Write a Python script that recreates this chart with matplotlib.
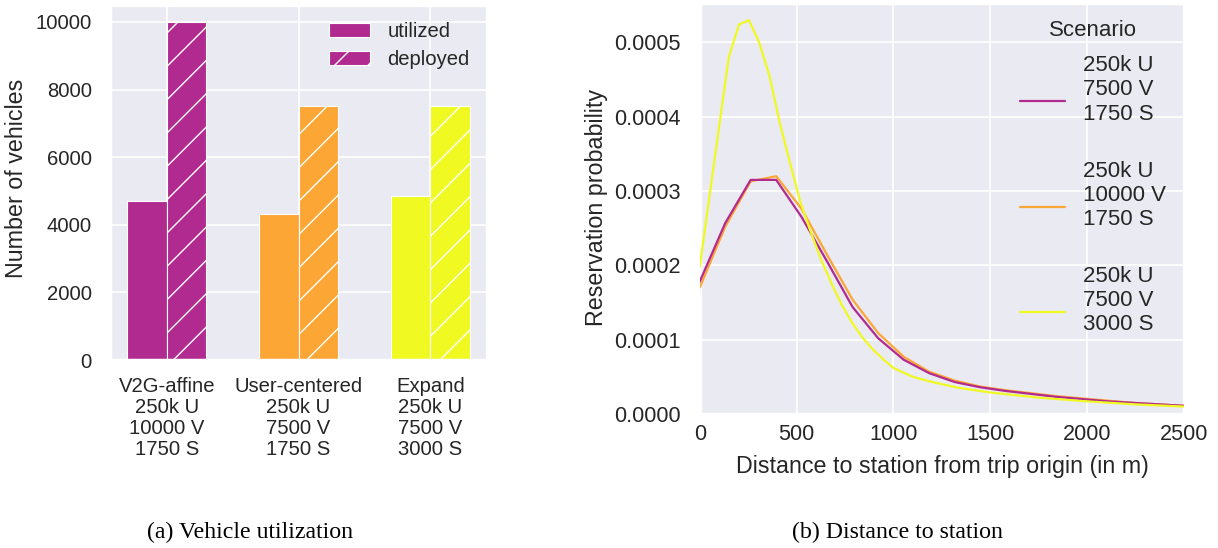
import matplotlib
matplotlib.use("Agg")
import matplotlib.pyplot as plt
from matplotlib.legend_handler import HandlerLine2D
import seaborn as sns
import numpy as np

sns.set_theme(style="darkgrid")
plt.rcParams['font.family'] = ['Liberation Sans', 'DejaVu Sans']
plt.rcParams['hatch.color'] = 'white'
plt.rcParams['hatch.linewidth'] = 0.5

# ---------------- data ----------------
scenarios = ["V2G-affine\n250k U\n10000 V\n1750 S",
             "User-centered\n250k U\n7500 V\n1750 S",
             "Expand\n250k U\n7500 V\n3000 S"]
utilized = [4700, 4330, 4840]
deployed = [10000, 7500, 7500]
bar_colors = ["#B12A90", "#FCA636", "#F0F921"]

dist_x = [0, 132, 263, 395, 526, 658, 789, 921, 1053, 1184,
          1316, 1447, 1579, 1711, 1842, 1974, 2105, 2237, 2368, 2500]
prob_7500v_1750s = [0.000178, 0.000257, 0.000315, 0.000315, 0.000265, 0.000205,
                    0.000144, 0.000102, 0.000073, 0.000055, 0.000043, 0.000036,
                    0.000031, 0.000027, 0.000023, 0.000020, 0.000017, 0.000015,
                    0.000013, 0.000011]
prob_10000v_1750s = [0.000170, 0.000252, 0.000313, 0.000320, 0.000276, 0.000214,
                     0.000154, 0.000109, 0.000077, 0.000057, 0.000045, 0.000037,
                     0.000032, 0.000028, 0.000024, 0.000021, 0.000018, 0.000015,
                     0.000013, 0.000011]
dist_x_3000s = [0, 150, 203, 254, 307, 360, 413, 466, 520, 573, 626, 680, 733,
                786, 840, 893, 946, 1000, 1100, 1200, 1342, 1500, 1750, 2000,
                2250, 2500]
prob_7500v_3000s = [0.000198, 0.000480, 0.000524, 0.000530, 0.000500, 0.000455,
                    0.000392, 0.000338, 0.000285, 0.000245, 0.000208, 0.000176,
                    0.000147, 0.000123, 0.000103, 0.000087, 0.000074, 0.000062,
                    0.000050, 0.000043, 0.000035, 0.000029, 0.000022, 0.000017,
                    0.000013, 0.000010]
scenario_labels = ["250k U\n7500 V\n1750 S",
                   "250k U\n10000 V\n1750 S",
                   "250k U\n7500 V\n3000 S"]
line_colors = ["#B12A90", "#FCA636", "#F0F921"]

W, H = 1218, 548
fig = plt.figure(figsize=(W / 200, H / 200), dpi=200)

def ax_rect(x0, y0, x1, y1):
    return [x0 / W, 1 - y1 / H, (x1 - x0) / W, (y1 - y0) / H]

tick_fs = 7.3
label_fs = 8.4


class ShiftedLineHandler(HandlerLine2D):
    """Legend line handle drawn a little lower (aligned like the reference)."""
    def __init__(self, shift=0.0, **kw):
        super().__init__(**kw)
        self.shift = shift

    def create_artists(self, legend, orig_handle, xdescent, ydescent, width,
                       height, fontsize, trans):
        arts = super().create_artists(legend, orig_handle, xdescent, ydescent,
                                      width, height, fontsize, trans)
        for a in arts:
            a.set_ydata(np.asarray(a.get_ydata()) - self.shift)
        return arts


# ---------------- left: bars ----------------
ax1 = fig.add_axes(ax_rect(110, 5, 487, 360))
pos = np.arange(len(scenarios))
w = 0.3
ax1.bar(pos - w / 2, utilized, width=w, color=bar_colors,
        edgecolor='white', linewidth=0.4, label="utilized")
ax1.bar(pos + w / 2, deployed, width=w, color=bar_colors,
        edgecolor='white', linewidth=0.4, hatch='//', label="deployed")
ax1.set_xticks(pos)
ax1.set_xticklabels(scenarios, fontsize=tick_fs, linespacing=1.13)
ax1.set_yticks([0, 2000, 4000, 6000, 8000, 10000])
ax1.tick_params(axis='y', labelsize=tick_fs, pad=6.5, length=0)
ax1.tick_params(axis='x', pad=6, length=0)
ax1.set_xlim(-0.43, 2.43)
ax1.set_ylim(0, 10500)
ax1.grid(True, color='white', linewidth=0.6)
leg1 = ax1.legend(loc='upper left', bbox_to_anchor=(0.582, 0.952),
                  frameon=False, fontsize=tick_fs, handlelength=2.0,
                  handleheight=0.65, handletextpad=0.85, labelspacing=0.45,
                  borderpad=0, borderaxespad=0)
fig.text(17 / W, 1 - 178 / H, "Number of vehicles", rotation=90,
         ha='center', va='center', fontsize=label_fs, color='#262626')

# ---------------- right: lines ----------------
ax2 = fig.add_axes(ax_rect(699.7, 3, 1184, 414))
ax2.plot(dist_x, prob_10000v_1750s, color=line_colors[1], lw=0.8,
         label=scenario_labels[1], zorder=3)
ax2.plot(dist_x, prob_7500v_1750s, color=line_colors[0], lw=0.8,
         label=scenario_labels[0], zorder=4)
ax2.plot(dist_x_3000s, prob_7500v_3000s, color=line_colors[2], lw=0.8,
         label=scenario_labels[2], zorder=5)
ax2.set_xlim(0, 2500)
ax2.set_ylim(0, 0.000553)
ax2.set_xticks([0, 500, 1000, 1500, 2000, 2500])
ax2.set_yticks([0, 0.0001, 0.0002, 0.0003, 0.0004, 0.0005])
ax2.set_yticklabels(["%.4f" % v for v in ax2.get_yticks()])
ax2.tick_params(axis='both', labelsize=tick_fs + 0.5, length=0)
ax2.tick_params(axis='y', pad=7)
ax2.tick_params(axis='x', pad=3.5)
ax2.grid(True, color='white', linewidth=0.6)
handles, labels = ax2.get_legend_handles_labels()
order = [1, 0, 2]
leg2 = ax2.legend([handles[i] for i in order], [labels[i] for i in order],
                  loc='upper left', bbox_to_anchor=(0.661, 0.873),
                  frameon=False, fontsize=8.0, handlelength=2.05,
                  handletextpad=0.8, labelspacing=1.62, borderpad=0,
                  borderaxespad=0,
                  handler_map={matplotlib.lines.Line2D: ShiftedLineHandler(shift=4.0)})
for t in leg2.get_texts():
    t.set_linespacing(1.2)
fig.text(1092.7 / W, 1 - 31 / H, "Scenario", ha='center', va='center',
         fontsize=8.0, color='#262626')
fig.text(596 / W, 1 - 208 / H, "Reservation probability", rotation=90,
         ha='center', va='center', fontsize=label_fs, color='#262626')
fig.text(942 / W, 1 - 467 / H, "Distance to station from trip origin (in m)",
         ha='center', va='center', fontsize=label_fs, color='#262626')

# ---------------- captions ----------------
fig.text(250 / W, 1 - 532 / H, "(a) Vehicle utilization", ha='center',
         va='center', fontsize=8.6, family='Liberation Serif', color='black')
fig.text(897 / W, 1 - 532 / H, "(b) Distance to station", ha='center',
         va='center', fontsize=8.6, family='Liberation Serif', color='black')

fig.savefig("out.png", dpi=200, facecolor='white')
